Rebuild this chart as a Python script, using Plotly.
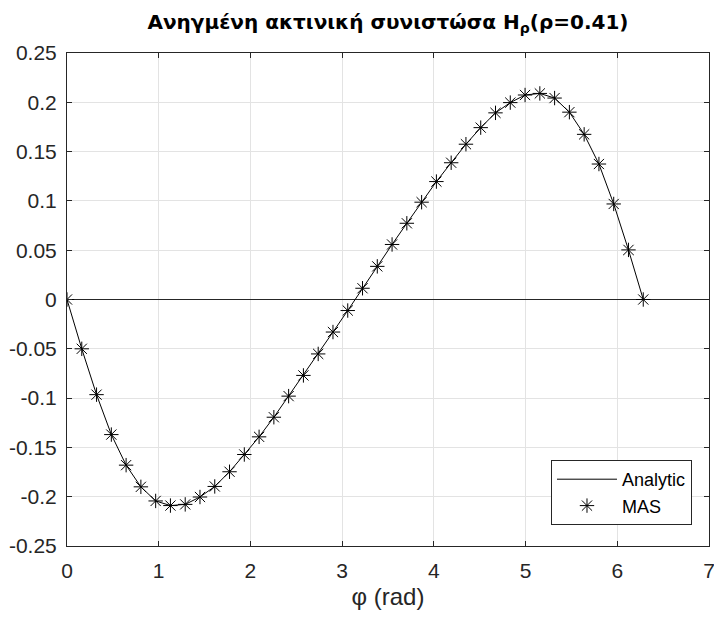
import numpy as np
import plotly.graph_objects as go

# phi samples (linspace 0..2pi, 40 points)
phi = np.linspace(0, 2 * np.pi, 40)
h_rho = [0.0, -0.050, -0.0965, -0.137, -0.168, -0.190, -0.2043, -0.209, -0.2078, -0.2003,
         -0.1896, -0.1747, -0.1572, -0.1393, -0.1194, -0.098, -0.077, -0.0552, -0.033, -0.0112,
         0.0114, 0.0336, 0.0558, 0.0773, 0.0987, 0.1196, 0.1387, 0.1575, 0.1743, 0.1893,
         0.1997, 0.2074, 0.2090, 0.2043, 0.190, 0.1675, 0.1374, 0.0969, 0.0503, 0.0]
xticks = [0, 1, 2, 3, 4, 5, 6, 7]
yticks = [-0.25, -0.2, -0.15, -0.1, -0.05, 0, 0.05, 0.1, 0.15, 0.2, 0.25]
ytick_text = ["-0.25", "-0.2", "-0.15", "-0.1", "-0.05", "0", "0.05", "0.1", "0.15", "0.2", "0.25"]

FONT = "Liberation Sans, Arial, Helvetica, sans-serif"
TFONT = "DejaVu Sans, Liberation Sans, sans-serif"
DARK = "#262626"

fig = go.Figure()
fig.add_trace(go.Scatter(x=phi, y=h_rho, mode="lines", name="Analytic",
                         line=dict(color="black", width=1)))
fig.add_trace(go.Scatter(x=phi, y=h_rho, mode="markers", name="MAS",
                         marker=dict(symbol="asterisk-open", size=12, color="black",
                                     line=dict(color="black", width=1))))

axis_common = dict(showline=True, linecolor=DARK, linewidth=1, mirror="ticks",
                   ticks="inside", ticklen=5, tickcolor=DARK, showgrid=True,
                   gridcolor="#e3e3e3", gridwidth=1, ticklabeloverflow="allow",
                   automargin=False,
                   tickfont=dict(family=FONT, size=21, color=DARK))

fig.update_xaxes(range=[0, 7], tickvals=xticks, zeroline=False, ticklabelstandoff=6,
                 title=dict(text="φ (rad)", font=dict(family=FONT, size=24, color=DARK),
                            standoff=6),
                 **axis_common)
fig.update_yaxes(range=[-0.25, 0.25], tickvals=yticks, ticktext=ytick_text,
                 zeroline=True, zerolinecolor=DARK, zerolinewidth=1, ticklabelstandoff=5,
                 **axis_common)

fig.update_layout(
    width=714, height=619,
    margin=dict(l=67, r=5, t=53, b=73),
    paper_bgcolor="white", plot_bgcolor="white",
    title=dict(text="<b>Ανηγμένη ακτινική συνιστώσα H<sub>ρ</sub>(ρ=0.41)</b>",
               x=(67 + 709) / 2 / 714, xanchor="center",
               y=1 - 22 / 619, yanchor="middle", yref="container",
               font=dict(family=TFONT, size=20, color="black")),
    legend=dict(x=0.9735, y=0.0426, xanchor="right", yanchor="bottom",
                bgcolor="white", bordercolor=DARK, borderwidth=1,
                font=dict(family=FONT, size=18, color="black"),
                itemwidth=60, tracegroupgap=0),
    showlegend=True,
)

fig.write_html("out.html")
